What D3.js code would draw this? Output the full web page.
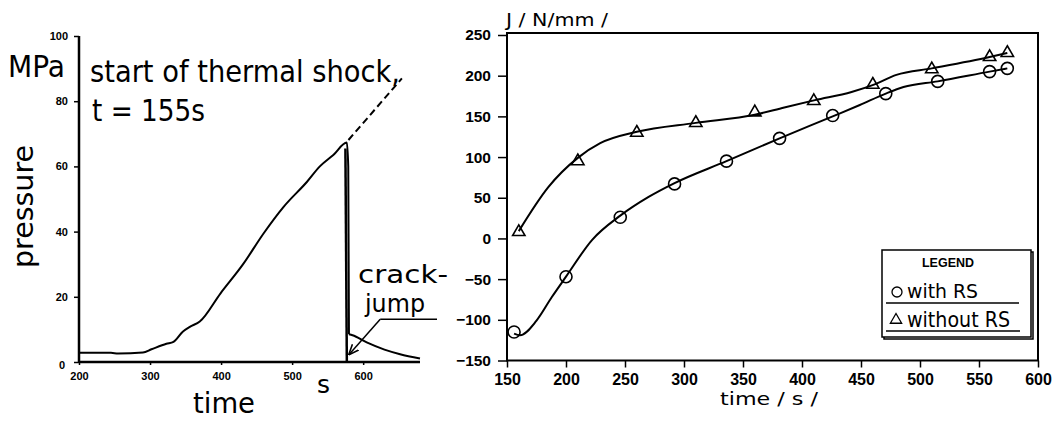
<!DOCTYPE html>
<html>
<head>
<meta charset="utf-8">
<script src="https://cdn.jsdelivr.net/npm/d3@7"></script>
<style>
  body { margin: 0; background: #fff; }
  svg { display: block; }
  .tick text { font-family: "Liberation Sans", Arial, sans-serif; font-weight: bold; fill: #000; }
  .lbl { font-family: "DejaVu Sans", sans-serif; fill: #000; }
</style>
</head>
<body>
<script>
// ---- left chart: pressure vs time ----
var pressureCurve = [
  [200, 2.8], [245, 2.8], [255, 2.6], [290, 2.9], [302, 3.9], [323, 5.6], [333, 6.2],
  [346, 9.3], [356, 10.8], [370, 12.4], [399, 21], [431, 30], [460, 39.5], [488, 47.6],
  [521, 55.3], [539, 60], [558, 63.5], [577, 67.3], [579, 60], [580, 8.5]
];
var pressureDecay = [[580, 8.5], [585, 8.2], [605, 6], [630, 3.8], [652, 2.4], [680, 1.1]];
var crackDrop = [[575, 65.5], [577, 0]];
var extrapolated = [[579.3, 68.1], [654.5, 87]];
var crackArrow = [[624, 13.1], [580.5, 2.4]];
var leftXTicks = [200, 300, 400, 500, 600];
var leftYTicks = [0, 20, 40, 60, 80, 100];

// ---- right chart: J vs time ----
var withRS = [
  [156, -115], [200, -47], [246, 26], [292, 67], [336, 95], [381, 123],
  [426, 151], [471, 178], [515, 193], [559, 205], [574, 209]
];
var withoutRS = [
  [160, 8], [210, 95], [260, 130], [310, 142], [360, 155], [410, 169],
  [460, 189], [510, 208], [559, 223], [574, 228]
];
var withRSLine = [
  [156, -117], [161, -119], [175, -101], [188, -72], [200, -47], [222, -2], [246, 28],
  [270, 51], [292, 68], [336, 95], [381, 123], [426, 150], [449, 164], [471, 178],
  [486, 186], [515, 193], [559, 205], [574, 209]
];
var withoutRSLine = [
  [160, 9], [185, 63], [210, 99], [229, 117], [260, 131], [310, 142], [360, 152],
  [385, 161], [411, 170], [442, 180], [461, 189], [480, 201], [510, 209], [559, 223],
  [574, 228]
];
var rightXTicks = [150, 200, 250, 300, 350, 400, 450, 500, 550, 600];
var rightYTicks = [-150, -100, -50, 0, 50, 100, 150, 200, 250];

var svg = d3.select("body").append("svg")
    .attr("width", 1064)
    .attr("height", 422);

// ================= left chart =================
var xL = d3.scaleLinear().domain([200, 680]).range([79, 420]);
var yL = d3.scaleLinear().domain([0, 100]).range([362, 36]);

var left = svg.append("g");

// y axis
var gyL = left.append("g")
    .attr("transform", "translate(" + xL(200) + ",0)")
    .call(d3.axisLeft(yL).tickValues(leftYTicks).tickSize(5).tickPadding(6));
gyL.select(".domain").attr("stroke-width", 2.5).attr("d", "M0," + yL(100) + "V" + (yL(0) + 1));
gyL.selectAll(".tick line").attr("stroke-width", 1.5);
gyL.selectAll(".tick text").style("font-size", "11px");
gyL.selectAll(".tick").filter(function(d) { return d === 0; }).select("text")
    .attr("x", -14).attr("dy", "0.55em");

// x axis
var gxL = left.append("g")
    .attr("transform", "translate(0," + yL(0) + ")")
    .call(d3.axisBottom(xL).tickValues(leftXTicks).tickSize(3).tickPadding(7));
gxL.select(".domain").attr("stroke-width", 2.5).attr("d", "M" + xL(200) + ",0H" + xL(680));
gxL.selectAll(".tick line").attr("stroke-width", 1.5);
gxL.selectAll(".tick text").style("font-size", "11px");

var lineL = d3.line().x(function(d) { return xL(d[0]); }).y(function(d) { return yL(d[1]); });

left.append("path").datum(pressureCurve)
    .attr("d", lineL.curve(d3.curveMonotoneX))
    .attr("fill", "none").attr("stroke", "#000").attr("stroke-width", 2);
left.append("path").datum(pressureDecay)
    .attr("d", lineL.curve(d3.curveMonotoneX))
    .attr("fill", "none").attr("stroke", "#000").attr("stroke-width", 2);
left.append("path").datum(crackDrop)
    .attr("d", lineL.curve(d3.curveLinear))
    .attr("fill", "none").attr("stroke", "#000").attr("stroke-width", 2.5);
left.append("path").datum(extrapolated)
    .attr("d", lineL.curve(d3.curveLinear))
    .attr("fill", "none").attr("stroke", "#000").attr("stroke-width", 2)
    .attr("stroke-dasharray", "7,4");

// crack-jump arrow
svg.append("defs").append("marker")
    .attr("id", "arr").attr("viewBox", "0 0 10 10")
    .attr("refX", 9).attr("refY", 5)
    .attr("markerWidth", 7).attr("markerHeight", 7)
    .attr("orient", "auto")
  .append("path").attr("d", "M0,1 L10,5 L0,9").attr("fill", "none")
    .attr("stroke", "#000").attr("stroke-width", 1.5);
left.append("path").datum(crackArrow)
    .attr("d", lineL.curve(d3.curveLinear))
    .attr("fill", "none").attr("stroke", "#000").attr("stroke-width", 1.5)
    .attr("marker-end", "url(#arr)");
left.append("line")
    .attr("x1", xL(crackArrow[0][0])).attr("x2", 437)
    .attr("y1", yL(crackArrow[0][1])).attr("y2", yL(crackArrow[0][1]))
    .attr("stroke", "#000").attr("stroke-width", 1.5);

function label(g, txt, x, y, size, len, anchor) {
  var t = g.append("text").attr("class", "lbl")
      .attr("x", x).attr("y", y)
      .style("font-size", size + "px")
      .attr("text-anchor", anchor || "start")
      .text(txt);
  if (len) t.attr("textLength", len).attr("lengthAdjust", "spacingAndGlyphs");
  return t;
}

label(left, "MPa", 8, 77, 30, 57);
label(left, "start of thermal shock,", 90, 82, 30, 310);
label(left, "t = 155s", 92, 121, 31, 113);
label(left, "pressure", 0, 0, 29, 123).attr("transform", "translate(33,268) rotate(-90)");
label(left, "crack-", 358, 283, 25, 90);
label(left, "jump", 365, 312, 25, 60);
label(left, "s", 317, 393, 25);
label(left, "time", 224, 413, 28, 62, "middle");

// ================= right chart =================
var xR = d3.scaleLinear().domain([150, 600]).range([507, 1038]);
var yR = d3.scaleLinear().domain([-150, 250]).range([360.5, 35]);

var right = svg.append("g");

right.append("rect")
    .attr("x", xR(150)).attr("y", yR(250) - 2)
    .attr("width", xR(600) - xR(150)).attr("height", yR(-150) - yR(250) + 2)
    .attr("fill", "none").attr("stroke", "#000").attr("stroke-width", 2);

var gyR = right.append("g")
    .attr("transform", "translate(" + xR(150) + ",0)")
    .call(d3.axisLeft(yR).tickValues(rightYTicks).tickSize(9).tickPadding(7)
      .tickFormat(d3.format("d")));
gyR.select(".domain").remove();
gyR.selectAll(".tick line").attr("stroke-width", 1.5);
gyR.selectAll(".tick text").style("font-size", "15.5px");

var gxR = right.append("g")
    .attr("transform", "translate(0," + yR(-150) + ")")
    .call(d3.axisBottom(xR).tickValues(rightXTicks).tickSize(7).tickPadding(6));
gxR.select(".domain").remove();
gxR.selectAll(".tick line").attr("stroke-width", 1.5);
gxR.selectAll(".tick text").style("font-size", "16px");

var lineR = d3.line().curve(d3.curveMonotoneX)
    .x(function(d) { return xR(d[0]); }).y(function(d) { return yR(d[1]); });

right.append("path").datum(withoutRSLine).attr("d", lineR)
    .attr("fill", "none").attr("stroke", "#000").attr("stroke-width", 2);
right.append("path").datum(withRSLine).attr("d", lineR)
    .attr("fill", "none").attr("stroke", "#000").attr("stroke-width", 2);

var tri = d3.symbol().type(d3.symbolTriangle).size(66);

right.selectAll(".circ").data(withRS).enter().append("circle")
    .attr("class", "circ")
    .attr("cx", function(d) { return xR(d[0]); })
    .attr("cy", function(d) { return yR(d[1]); })
    .attr("r", 6)
    .attr("fill", "none")
    .attr("stroke", "#000").attr("stroke-width", 1.6);

right.selectAll(".tri").data(withoutRS).enter().append("path")
    .attr("class", "tri")
    .attr("transform", function(d) { return "translate(" + xR(d[0]) + "," + yR(d[1]) + ")"; })
    .attr("d", tri)
    .attr("fill", "none")
    .attr("stroke", "#000").attr("stroke-width", 1.6);

label(right, "J / N/mm /", 506, 26, 17, 102);
label(right, "time  / s /", 720, 405, 18, 98);

// legend
var leg = right.append("g");
leg.append("rect").attr("x", 884).attr("y", 252).attr("width", 149).attr("height", 87)
    .attr("fill", "none").attr("stroke", "#000").attr("stroke-width", 1.5);
leg.append("rect").attr("x", 882).attr("y", 250).attr("width", 149).attr("height", 87)
    .attr("fill", "#fff").attr("stroke", "#000").attr("stroke-width", 1.5);
leg.append("text").attr("x", 948).attr("y", 267)
    .attr("text-anchor", "middle")
    .attr("textLength", 52).attr("lengthAdjust", "spacingAndGlyphs")
    .style("font-family", "Liberation Sans, Arial, sans-serif")
    .style("font-weight", "bold").style("font-size", "12px")
    .text("LEGEND");
leg.append("circle").attr("cx", 897).attr("cy", 292).attr("r", 5)
    .attr("fill", "none").attr("stroke", "#000").attr("stroke-width", 1.3);
label(leg, "with RS", 907, 298, 20, 71);
leg.append("line").attr("x1", 886).attr("x2", 1019).attr("y1", 303).attr("y2", 303)
    .attr("stroke", "#000").attr("stroke-width", 1.5);
leg.append("path").attr("transform", "translate(896,320)")
    .attr("d", d3.symbol().type(d3.symbolTriangle).size(55))
    .attr("fill", "none").attr("stroke", "#000").attr("stroke-width", 1.3);
label(leg, "without RS", 907, 327, 21, 103);
leg.append("line").attr("x1", 886).attr("x2", 1020).attr("y1", 331).attr("y2", 331)
    .attr("stroke", "#000").attr("stroke-width", 1.5);
</script>
</body>
</html>
